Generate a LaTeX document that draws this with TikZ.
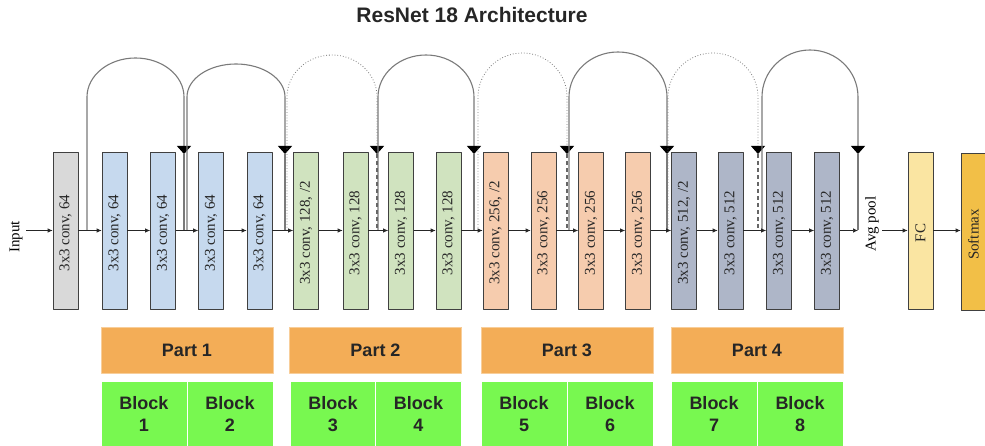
\documentclass[tikz,border=0pt]{standalone}
\usepackage{fontspec}
\usepackage{graphicx}
\setmainfont{Liberation Serif}
\newfontfamily\headfont{Liberation Sans}
\usetikzlibrary{arrows.meta}
\definecolor{cgray}{HTML}{D9D9D9}
\definecolor{cblue}{HTML}{C6D9EE}
\definecolor{cgreen}{HTML}{D0E3BF}
\definecolor{cpeach}{HTML}{F6CCAE}
\definecolor{cslate}{HTML}{AEB6C8}
\definecolor{cfc}{HTML}{FAE5A2}
\definecolor{csoft}{HTML}{F2BF47}
\definecolor{cpart}{HTML}{F3AD57}
\definecolor{cblock}{HTML}{78F850}
\definecolor{skipgray}{HTML}{7A7A7A}
\newcommand{\convlabel}[1]{\rotatebox{90}{#1\hspace{5pt}}}
\begin{document}
\begin{tikzpicture}[x=1pt, y=1pt, font=\fontsize{15}{17}\selectfont, line join=round, >={Latex[length=5pt,width=4.5pt]},
	conv/.style={draw=black!75, line width=0.7pt, minimum width=25pt, minimum height=157pt, inner sep=0pt, text=black!85},
	part/.style={fill=cpart, draw=cpart!60!white, line width=0.8pt, minimum width=172pt, minimum height=46pt, font=\headfont\bfseries\fontsize{18}{22}\selectfont, text=black!85},
	blockbox/.style={fill=cblock, draw=white, line width=1pt, minimum width=86pt, minimum height=66pt, align=center, font=\headfont\bfseries\fontsize{18}{22}\selectfont, text=black!85},
	skip/.style={draw=skipgray, line width=1.1pt},
	proj/.style={draw=skipgray, line width=0.8pt, dotted},
	projleg/.style={draw=black!60, line width=1.1pt, dash pattern=on 4pt off 3pt},
	tip/.style={-{Triangle[width=14pt,length=8pt,color=black]}},
	main/.style={->, draw=black!85, line width=0.7pt}];
	\useasboundingbox (0,0) rectangle (985,-446);
	\node[font=\headfont\bfseries\fontsize{21}{25}\selectfont, text=black!85] (title) at (472,-15) {ResNet 18 Architecture};
	\node[rotate=90] (input) at (16,-237) {Input};
	\node[conv, fill=cgray] (b0) at (65.5,-230.5) {\convlabel{3x3 conv, 64}};
	\node[conv, fill=cblue] (b1) at (114.5,-230.5) {\convlabel{3x3 conv, 64}};
	\node[conv, fill=cblue] (b2) at (163,-230.5) {\convlabel{3x3 conv, 64}};
	\node[conv, fill=cblue] (b3) at (211,-230.5) {\convlabel{3x3 conv, 64}};
	\node[conv, fill=cblue] (b4) at (259.5,-230.5) {\convlabel{3x3 conv, 64}};
	\node[conv, fill=cgreen] (b5) at (306,-230.5) {\convlabel{3x3 conv, 128, /2}};
	\node[conv, fill=cgreen] (b6) at (355.5,-230.5) {\convlabel{3x3 conv, 128}};
	\node[conv, fill=cgreen] (b7) at (401,-230.5) {\convlabel{3x3 conv, 128}};
	\node[conv, fill=cgreen] (b8) at (448.5,-230.5) {\convlabel{3x3 conv, 128}};
	\node[conv, fill=cpeach] (b9) at (495.5,-230.5) {\convlabel{3x3 conv, 256, /2}};
	\node[conv, fill=cpeach] (b10) at (543.5,-230.5) {\convlabel{3x3 conv, 256}};
	\node[conv, fill=cpeach] (b11) at (591,-230.5) {\convlabel{3x3 conv, 256}};
	\node[conv, fill=cpeach] (b12) at (638,-230.5) {\convlabel{3x3 conv, 256}};
	\node[conv, fill=cslate] (b13) at (684,-230.5) {\convlabel{3x3 conv, 512, /2}};
	\node[conv, fill=cslate] (b14) at (730.5,-230.5) {\convlabel{3x3 conv, 512}};
	\node[conv, fill=cslate] (b15) at (779,-230.5) {\convlabel{3x3 conv, 512}};
	\node[conv, fill=cslate] (b16) at (827,-230.5) {\convlabel{3x3 conv, 512}};
	\node[rotate=90] (pool) at (872,-224) {Avg pool};
	\node[conv, fill=cfc] (fc) at (920.5,-230.5) {\convlabel{FC}};
	\node[conv, fill=csoft] (soft) at (973.5,-232) {\convlabel{Softmax}};
	% shortcut junctions on the main line
	\coordinate (s1a) at (87,-230.5);  \coordinate (s1t) at (184,-154); \coordinate (s1b) at (184,-230.5);
	\coordinate (s2a) at (187,-230.5); \coordinate (s2t) at (285,-154); \coordinate (s2b) at (285,-230.5);
	\coordinate (s3a) at (287,-230.5); \coordinate (s3t) at (377,-154); \coordinate (s3b) at (377,-230.5);
	\coordinate (s4a) at (378,-230.5); \coordinate (s4t) at (474,-154); \coordinate (s4b) at (474,-230.5);
	\coordinate (s5a) at (478,-230.5); \coordinate (s5t) at (567,-154); \coordinate (s5b) at (567,-230.5);
	\coordinate (s6a) at (569,-230.5); \coordinate (s6t) at (667,-154); \coordinate (s6b) at (667,-230.5);
	\coordinate (s7a) at (668,-230.5); \coordinate (s7t) at (758,-154); \coordinate (s7b) at (758,-230.5);
	\coordinate (s8a) at (762,-230.5); \coordinate (s8t) at (858,-154); \coordinate (s8b) at (858,-230.5);
	% shortcut arcs
	\draw[skip, tip] (s1a) -- ++(0,133.5) arc[start angle=180, end angle=0, x radius=48.5, y radius=39] -- (s1t);
	\draw[skip, tip] (s2a) -- ++(0,133.5) arc[start angle=180, end angle=0, x radius=49, y radius=33] -- (s2t);
	\draw[proj, tip] (s3a) -- ++(0,133.5) arc[start angle=180, end angle=0, x radius=45, y radius=42] -- (s3t);
	\draw[skip, tip] (s4a) -- ++(0,133.5) arc[start angle=180, end angle=0, x radius=48, y radius=42] -- (s4t);
	\draw[proj, tip] (s5a) -- ++(0,133.5) arc[start angle=180, end angle=0, x radius=44.5, y radius=44] -- (s5t);
	\draw[skip, tip] (s6a) -- ++(0,133.5) arc[start angle=180, end angle=0, x radius=49, y radius=45] -- (s6t);
	\draw[proj, tip] (s7a) -- ++(0,133.5) arc[start angle=180, end angle=0, x radius=45, y radius=44] -- (s7t);
	\draw[skip, tip] (s8a) -- ++(0,133.5) arc[start angle=180, end angle=0, x radius=48, y radius=47] -- (s8t);
	\draw[skip] (s1t) -- (s1b);
	\draw[skip] (s2t) -- (s2b);
	\draw[projleg] (s3t) -- (s3b);
	\draw[skip] (s4t) -- (s4b);
	\draw[projleg] (s5t) -- (s5b);
	\draw[skip] (s6t) -- (s6b);
	\draw[projleg] (s7t) -- (s7b);
	\draw[skip] (s8t) -- (s8b);
	% main line
	\draw[main] (input.south |- b0) -- (b0.west);
	\draw[main] (b0.east) -- (b1.west);
	\draw[main] (b1.east) -- (b2.west);
	\draw[main] (b2.east) -- (b3.west);
	\draw[main] (b3.east) -- (b4.west);
	\draw[main] (b4.east) -- (b5.west);
	\draw[main] (b5.east) -- (b6.west);
	\draw[main] (b6.east) -- (b7.west);
	\draw[main] (b7.east) -- (b8.west);
	\draw[main] (b8.east) -- (b9.west);
	\draw[main] (b9.east) -- (b10.west);
	\draw[main] (b10.east) -- (b11.west);
	\draw[main] (b11.east) -- (b12.west);
	\draw[main] (b12.east) -- (b13.west);
	\draw[main] (b13.east) -- (b14.west);
	\draw[main] (b14.east) -- (b15.west);
	\draw[main] (b15.east) -- (b16.west);
	\draw[main] (b16.east) -- (s8b);
	\draw[main] (fc.west -| pool.south) -- (fc.west);
	\draw[main] (fc.east) -- (soft.west |- fc.east);
	% parts and blocks
	\node[part] (p1) at (187,-350) {Part 1};
	\node[part] (p2) at (375.5,-350) {Part 2};
	\node[part] (p3) at (567,-350) {Part 3};
	\node[part] (p4) at (757,-350) {Part 4};
	\node[blockbox] (k1) at (144,-414) {Block\\1};
	\node[blockbox] (k2) at (230,-414) {Block\\2};
	\node[blockbox] (k3) at (333,-414) {Block\\3};
	\node[blockbox] (k4) at (418.5,-414) {Block\\4};
	\node[blockbox] (k5) at (524,-414) {Block\\5};
	\node[blockbox] (k6) at (610,-414) {Block\\6};
	\node[blockbox] (k7) at (714,-414) {Block\\7};
	\node[blockbox] (k8) at (800,-414) {Block\\8};
\end{tikzpicture}
\end{document}
